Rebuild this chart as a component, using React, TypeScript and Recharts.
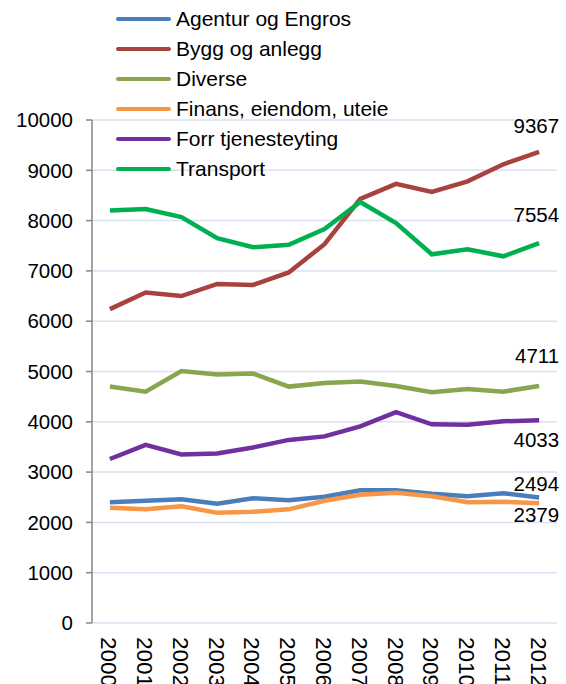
import React from 'react';
import { LineChart, Line, XAxis, YAxis, CartesianGrid, Legend } from 'recharts';

const years = ['2000', '2001', '2002', '2003', '2004', '2005', '2006', '2007', '2008', '2009', '2010', '2011', '2012'];
const agentur = [2400, 2430, 2460, 2370, 2480, 2440, 2510, 2640, 2640, 2570, 2520, 2580, 2494];
const bygg = [6240, 6570, 6500, 6740, 6720, 6970, 7530, 8430, 8730, 8570, 8780, 9120, 9367];
const diverse = [4700, 4600, 5010, 4940, 4960, 4700, 4770, 4800, 4710, 4590, 4650, 4600, 4711];
const finans = [2290, 2260, 2320, 2190, 2210, 2260, 2430, 2550, 2590, 2520, 2400, 2410, 2379];
const forr = [3260, 3540, 3350, 3370, 3490, 3640, 3710, 3910, 4190, 3950, 3940, 4010, 4033];
const transport = [8200, 8230, 8070, 7650, 7470, 7520, 7830, 8370, 7950, 7330, 7430, 7290, 7554];
const yTicks = [0, 1000, 2000, 3000, 4000, 5000, 6000, 7000, 8000, 9000, 10000];

const seriesNames = ['Agentur og Engros', 'Bygg og anlegg', 'Diverse', 'Finans, eiendom, uteie', 'Forr tjenesteyting', 'Transport'];
const seriesKeys = ['agentur', 'bygg', 'diverse', 'finans', 'forr', 'transport'];
const seriesValues = [agentur, bygg, diverse, finans, forr, transport];

// styles (not data)
const colors = ['#4A7EBB', '#A8423F', '#89A54E', '#F79646', '#7030A0', '#00B050'];
const labelDy = [-7, -19, -23, 19, 27, -21];

const data = years.map((y, i) => {
  const row: any = { x: i, year: y };
  seriesKeys.forEach((k, s) => {
    row[k] = seriesValues[s][i];
  });
  return row;
});

const FONT = '"Liberation Sans", Arial, sans-serif';
const xTicks = years.map((_, i) => i);
const xBoundaryTicks = [...years.map((_, i) => i - 0.5), years.length - 0.5];

const RotatedTick = (props: any) => {
  const { x, y, payload } = props;
  return (
    <text
      x={0}
      y={0}
      transform={`translate(${x - 1},${y + 6}) rotate(90)`}
      textAnchor="start"
      dominantBaseline="central"
      fontSize={22.5}
      fontFamily={FONT}
      fill="#000"
    >
      {years[payload.value]}
    </text>
  );
};

const LegendContent = () => (
  <div style={{ fontFamily: FONT, fontSize: 21, color: '#000', paddingTop: 4 }}>
    {seriesNames.map((n, i) => (
      <div key={n} style={{ display: 'flex', alignItems: 'center', height: 30 }}>
        <div
          style={{
            marginLeft: 116,
            width: 55,
            height: 4.5,
            borderRadius: 2.5,
            background: colors[i],
            marginRight: 5,
          }}
        />
        <span style={{ whiteSpace: 'nowrap' }}>{n}</span>
      </div>
    ))}
  </div>
);

const makeEndLabel = (s: number) => (props: any) => {
  const { x, y, index, value } = props;
  if (index !== years.length - 1) return null;
  return (
    <text
      x={x + 20}
      y={y + labelDy[s]}
      textAnchor="end"
      fontSize={20.5}
      fontFamily={FONT}
      fill="#000"
    >
      {value}
    </text>
  );
};

export default function App() {
  return (
    <div style={{ position: 'absolute', left: 0, top: 0, width: 566, height: 684, background: '#fff', overflow: 'hidden' }}>
      <LineChart width={566} height={684} data={data} margin={{ top: 120, right: 9, bottom: 0, left: 0 }}>
        <CartesianGrid vertical={false} stroke="#D9E2F0" strokeWidth={1.5} />
        <XAxis
          xAxisId="b"
          dataKey="x"
          type="number"
          domain={[-0.5, years.length - 0.5]}
          allowDataOverflow
          ticks={xBoundaryTicks}
          tick={false}
          tickSize={6}
          height={0}
          axisLine={{ stroke: '#868686', strokeWidth: 1.5 }}
          tickLine={{ stroke: '#868686', strokeWidth: 1.5 }}
        />
        <XAxis
          xAxisId="a"
          dataKey="x"
          type="number"
          domain={[-0.5, years.length - 0.5]}
          allowDataOverflow
          ticks={xTicks}
          interval={0}
          tick={<RotatedTick />}
          tickLine={false}
          axisLine={false}
          height={61}
        />
        <YAxis
          width={92}
          domain={[0, 10000]}
          ticks={yTicks}
          interval={0}
          tickSize={6}
          tickMargin={13}
          axisLine={{ stroke: '#868686', strokeWidth: 1.5 }}
          tickLine={{ stroke: '#868686', strokeWidth: 1.5 }}
          tick={{ fontSize: 20.5, fontFamily: FONT, fill: '#000' }}
        />
        <Legend
          layout="vertical"
          align="center"
          verticalAlign="middle"
          content={<LegendContent />}
          wrapperStyle={{ position: 'absolute', left: 0, top: 0, width: 420 }}
        />
        {seriesKeys.map((k, s) => (
          <Line
            key={k}
            xAxisId="a"
            dataKey={k}
            name={seriesNames[s]}
            stroke={colors[s]}
            strokeWidth={4.5}
            dot={false}
            activeDot={false}
            type="linear"
            isAnimationActive={false}
            label={makeEndLabel(s)}
          />
        ))}
      </LineChart>
    </div>
  );
}
